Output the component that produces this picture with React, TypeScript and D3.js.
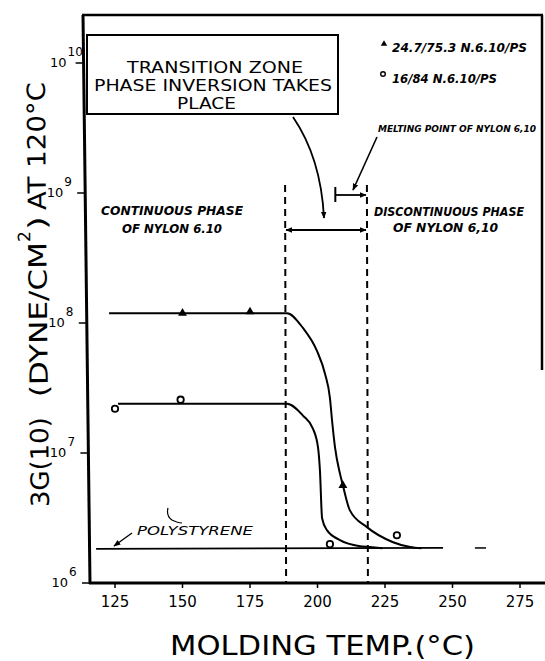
import React from 'react';
import * as d3 from 'd3';

// ---- data ----
const xTicks = [125, 150, 175, 200, 225, 250, 275];
const yExponents = [6, 7, 8, 9, 10];

// triangles: 24.7/75.3 N.6.10/PS
const triTemp = [150, 175, 209.4];
const triG = [1.19e8, 1.22e8, 5.64e6];

// circles: 16/84 N.6.10/PS
const circTemp = [125, 149.3, 204.6, 229.4];
const circG = [2.19e7, 2.57e7, 1.99e6, 2.33e6];

// drawn curve through triangles
const upperTemp = [122.8, 188.7, 194.6, 199.8, 202.8, 204.6, 205.4, 206.5, 208.3, 209.4, 212.0, 218.3, 228.0, 234.3, 238.5];
const upperG = [1.19e8, 1.19e8, 9.16e7, 6.1e7, 4.06e7, 2.66e7, 1.77e7, 1.1e7, 6.97e6, 5.64e6, 3.62e6, 2.69e6, 2.06e6, 1.89e6, 1.85e6];

// drawn curve through circles
const lowerTemp = [126.1, 188.7, 194.6, 198.3, 200.2, 200.9, 201.7, 203.5, 208.3, 215.7, 219.4, 224];
const lowerG = [2.39e7, 2.39e7, 1.94e7, 1.54e7, 1.1e7, 7.35e6, 3.15e6, 2.55e6, 2.14e6, 1.92e6, 1.89e6, 1.85e6];

// polystyrene reference line
const psTemp = [118, 246.5];
const psG = [1.83e6, 1.86e6];
const psDashTemp = [258.3, 262.4];
const psDashG = [1.86e6, 1.86e6];

// transition zone boundaries
const zoneTemps = [188, 218.3];
const meltTemp = [206.6, 218.3];

const legendLabels = ['24.7/75.3  N.6.10/PS', '16/84  N.6.10/PS'];

export default function App() {
  const W = 545, H = 661;
  const x = d3.scaleLinear().domain([125, 275]).range([115, 520]);
  const y = d3.scaleLog().domain([1e6, 1e10]).range([583, 63]);

  const line = d3.line<[number, number]>()
    .x(d => x(d[0])).y(d => y(d[1]))
    .curve(d3.curveMonotoneX);
  const straight = d3.line<[number, number]>().x(d => x(d[0])).y(d => y(d[1]));

  const upper = upperTemp.map((t, i) => [t, upperG[i]] as [number, number]);
  const lower = lowerTemp.map((t, i) => [t, lowerG[i]] as [number, number]);
  const ps = psTemp.map((t, i) => [t, psG[i]] as [number, number]);
  const psDash = psDashTemp.map((t, i) => [t, psDashG[i]] as [number, number]);

  const axisBottom = 583;
  const leftTop = 83, leftBottom = 90;
  const tri = d3.symbol().type(d3.symbolTriangle).size(34)();
  const triSmall = d3.symbol().type(d3.symbolTriangle).size(18)();

  const sans = '"DejaVu Sans", sans-serif';
  const hand = '"DejaVu Sans", sans-serif';
  const handC = '"DejaVu Sans Condensed", "DejaVu Sans", sans-serif';

  // y-label baseline drifts slightly (scan slant)
  const yl = (yy: number) => 49 - (507 - yy) * 0.01;
  const rot = -90.6;

  return (
    <svg width={W} height={H} style={{ position: 'absolute', left: 0, top: 0, background: '#fff' }}>
      <defs>
        <marker id="ah" viewBox="0 0 10 10" refX="9" refY="5" markerWidth="7" markerHeight="7" orient="auto-start-reverse" markerUnits="userSpaceOnUse">
          <path d="M0,1 L10,5 L0,9 z" fill="#000" />
        </marker>
      </defs>

      {/* frame */}
      <line x1={leftTop} y1={15} x2={leftBottom} y2={axisBottom + 1} stroke="#000" strokeWidth={3} />
      <line x1={leftTop - 1} y1={15} x2={543} y2={15} stroke="#000" strokeWidth={2.5} />
      <line x1={542} y1={15} x2={542} y2={370} stroke="#000" strokeWidth={2.5} />
      <line x1={leftBottom - 1} y1={axisBottom} x2={W} y2={axisBottom} stroke="#000" strokeWidth={3} />

      {/* x ticks */}
      {xTicks.map(t => (
        <g key={t}>
          <line x1={x(t)} x2={x(t)} y1={axisBottom} y2={axisBottom + 5} stroke="#000" strokeWidth={1.5} />
          <text x={x(t)} y={607} textAnchor="middle" fontFamily={sans} fontSize={15}>{t}</text>
        </g>
      ))}

      {/* y ticks */}
      {yExponents.map(e => {
        const yy = y(Math.pow(10, e));
        const ax = leftTop + (leftBottom - leftTop) * (yy - 15) / (axisBottom - 15);
        const supX = e === 10 ? ax - 16 : ax - 21;
        return (
          <g key={e}>
            <line x1={ax - 8} x2={ax} y1={yy} y2={yy} stroke="#000" strokeWidth={1.5} />
            <text x={supX - 1} y={yy + 4} textAnchor="end" fontFamily={sans} fontSize={13}>10</text>
            <text x={supX} y={yy - 7} fontFamily={sans} fontSize={12}>{e}</text>
          </g>
        );
      })}

      {/* axis labels */}
      <text x={170} y={655} fontFamily={sans} fontSize={26} textLength={305} lengthAdjust="spacingAndGlyphs">MOLDING TEMP.(°C)</text>
      <g fontFamily={sans} fontSize={25}>
        <text transform={`translate(${yl(507)},507) rotate(${rot})`} textLength={90} lengthAdjust="spacingAndGlyphs">3G(10)</text>
        <text transform={`translate(${yl(397)},397) rotate(${rot})`} textLength={155} lengthAdjust="spacingAndGlyphs">(DYNE/CM</text>
        <text transform={`translate(${yl(242) - 16},242) rotate(${rot})`} fontSize={17} textLength={11} lengthAdjust="spacingAndGlyphs">2</text>
        <text transform={`translate(${yl(230)},230) rotate(${rot})`} textLength={14} lengthAdjust="spacingAndGlyphs">)</text>
        <text transform={`translate(${yl(210)},210) rotate(${rot})`} textLength={128} lengthAdjust="spacingAndGlyphs">AT 120°C</text>
      </g>

      {/* dashed zone lines */}
      {zoneTemps.map(t => (
        <line key={t} x1={x(t)} x2={x(t) + 1} y1={185} y2={axisBottom} stroke="#000" strokeWidth={2} strokeDasharray="7,5" />
      ))}

      {/* transition zone arrow */}
      <line x1={x(zoneTemps[0]) + 1} x2={x(zoneTemps[1]) - 1} y1={230} y2={230} stroke="#000" strokeWidth={1.8}
        markerStart="url(#ah)" markerEnd="url(#ah)" />

      {/* melting point bar */}
      <line x1={x(meltTemp[0])} x2={x(meltTemp[0])} y1={187} y2={202} stroke="#000" strokeWidth={2} />
      <line x1={x(meltTemp[0])} x2={x(meltTemp[1]) - 1} y1={195} y2={195} stroke="#000" strokeWidth={1.8} markerEnd="url(#ah)" />
      <line x1={377} y1={137} x2={353} y2={190} stroke="#000" strokeWidth={1.6} markerEnd="url(#ah)" />

      {/* box */}
      <rect x={87} y={35} width={251} height={79} fill="#fff" stroke="#000" strokeWidth={2} />
      <g fontFamily={sans} fontSize={16} textAnchor="middle">
        <text x={215} y={73} textLength={176} lengthAdjust="spacingAndGlyphs">TRANSITION ZONE</text>
        <text x={213} y={91} textLength={238} lengthAdjust="spacingAndGlyphs">PHASE INVERSION TAKES</text>
        <text x={206.5} y={109} textLength={59} lengthAdjust="spacingAndGlyphs">PLACE</text>
      </g>
      <path d="M293,117 Q321,158 324,218" fill="none" stroke="#000" strokeWidth={1.8} markerEnd="url(#ah)" />

      {/* legend */}
      <path d={triSmall} transform="translate(384,44)" fill="#000" />
      <text x={392} y={52} fontFamily={hand} fontSize={12} fontStyle="italic" fontWeight="bold" textLength={135} lengthAdjust="spacingAndGlyphs">{legendLabels[0]}</text>
      <circle cx={383} cy={74} r={2.3} fill="none" stroke="#000" strokeWidth={1.4} />
      <text x={392} y={83} fontFamily={hand} fontSize={12} fontStyle="italic" fontWeight="bold" textLength={105} lengthAdjust="spacingAndGlyphs">{legendLabels[1]}</text>
      <text x={378} y={132} fontFamily={handC} fontSize={9} fontStyle="italic" fontWeight="bold" textLength={158} lengthAdjust="spacingAndGlyphs">MELTING POINT OF NYLON 6,10</text>

      {/* phase annotations */}
      <g fontFamily={hand} fontStyle="italic" fontWeight="bold" fontSize={13}>
        <text x={101} y={215} textLength={142} lengthAdjust="spacingAndGlyphs">CONTINUOUS  PHASE</text>
        <text x={122} y={233} textLength={100} lengthAdjust="spacingAndGlyphs">OF NYLON 6.10</text>
        <text x={374} y={216} fontFamily={handC} textLength={150} lengthAdjust="spacingAndGlyphs">DISCONTINUOUS PHASE</text>
        <text x={393} y={232} textLength={105} lengthAdjust="spacingAndGlyphs">OF NYLON 6,10</text>
      </g>

      {/* polystyrene */}
      <path d={straight(ps) || ''} fill="none" stroke="#000" strokeWidth={1.8} />
      <path d={straight(psDash) || ''} fill="none" stroke="#000" strokeWidth={1.5} />
      <text x={137} y={535} fontFamily={hand} fontStyle="italic" fontSize={12} textLength={116} lengthAdjust="spacingAndGlyphs">POLYSTYRENE</text>
      <line x1={132} y1={533} x2={114} y2={546} stroke="#000" strokeWidth={1.3} markerEnd="url(#ah)" />
      <path d="M168,508 Q166,516 172,520 Q178,523 182,523" fill="none" stroke="#000" strokeWidth={1.2} />

      {/* curves */}
      <path d={line(upper) || ''} fill="none" stroke="#000" strokeWidth={2} />
      <path d={line(lower) || ''} fill="none" stroke="#000" strokeWidth={2} />

      {/* markers */}
      {triTemp.map((t, i) => (
        <path key={'t' + i} d={tri} transform={`translate(${x(t)},${y(triG[i])})`} fill="#000" />
      ))}
      {circTemp.map((t, i) => (
        <circle key={'c' + i} cx={x(t)} cy={y(circG[i])} r={3.2} fill="#fff" stroke="#000" strokeWidth={1.8} />
      ))}
    </svg>
  );
}
